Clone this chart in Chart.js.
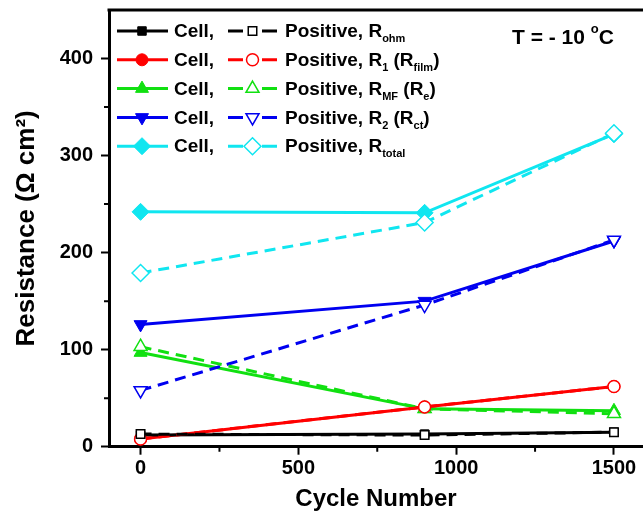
<!DOCTYPE html>
<html><head><meta charset="utf-8">
<script src="https://cdn.jsdelivr.net/npm/chart.js@4/dist/chart.umd.min.js"></script>
<style>html,body{margin:0;padding:0;background:#fff}#wrap{position:relative;width:643px;height:521px}</style>
</head><body><div id="wrap"><canvas id="c"></canvas></div>
<script>
// ---- data ----
const cycles = [0, 900, 1500];
const cellRohm = [12, 13, 15];
const posRohm = [13, 12, 15];
const cellR1 = [8, 41, 62];
const posR1 = [8, 41, 62];
const cellRMF = [97, 39, 37];
const posRMF = [103, 39, 34];
const cellR2 = [126, 150, 212];
const posR2 = [58, 146, 213];
const cellRtotal = [242, 241, 322];
const posRtotal = [179, 231, 323];
const xTicks = [0, 500, 1000, 1500];
const yTicks = [0, 100, 200, 300, 400];
const xMinorTicks = [250, 750, 1250];
const yMinorTicks = [50, 150, 250, 350];
const cellLabel = 'Cell,';
const posLabels = [
  [{t:'Positive, R'},{t:'ohm',sub:true}],
  [{t:'Positive, R'},{t:'1',sub:true},{t:' (R'},{t:'film',sub:true},{t:')'}],
  [{t:'Positive, R'},{t:'MF',sub:true},{t:' (R'},{t:'e',sub:true},{t:')'}],
  [{t:'Positive, R'},{t:'2',sub:true},{t:' (R'},{t:'ct',sub:true},{t:')'}],
  [{t:'Positive, R'},{t:'total',sub:true}]
];
const tempLabel = [{t:'T = - 10 '},{t:'o',sup:true},{t:'C'}];

// ---- styles ----
const FONT = '"Liberation Sans", Arial, sans-serif';
const styles = [
  {color:'#000000', ps:'rect', r:6, rot:0},
  {color:'#ff0000', ps:'circle', r:6, rot:0},
  {color:'#11e011', ps:'triangle', r:7.5, rot:0},
  {color:'#0000f0', ps:'triangle', r:7.5, rot:180},
  {color:'#10e6f0', ps:'rectRot', r:8.5, rot:0}
];
const cellData = [cellRohm, cellR1, cellRMF, cellR2, cellRtotal];
const posData = [posRohm, posR1, posRMF, posR2, posRtotal];

const datasets = [];
styles.forEach((s, i) => {
  datasets.push({
    label: 'Cell ' + i, order: 1,
    data: cycles.map((x, k) => ({x, y: cellData[i][k]})),
    showLine: true, borderColor: s.color, backgroundColor: s.color,
    borderWidth: 3, pointStyle: s.ps, pointRadius: s.r, pointRotation: s.rot,
    pointBackgroundColor: s.color, pointBorderColor: s.color, pointBorderWidth: 1,
    pointHoverRadius: s.r, clip: false
  });
  datasets.push({
    label: 'Positive ' + i, order: 0,
    data: cycles.map((x, k) => ({x, y: posData[i][k]})),
    showLine: true, borderColor: s.color, backgroundColor: '#ffffff',
    borderWidth: 3, borderDash: [11, 7], pointStyle: s.ps, pointRadius: s.r, pointRotation: s.rot,
    pointBackgroundColor: '#ffffff', pointBorderColor: s.color, pointBorderWidth: 1.5,
    pointHoverRadius: s.r, clip: false
  });
});

function drawRich(ctx, parts, x, y, size) {
  let cx = x;
  parts.forEach(p => {
    const fs = (p.sub || p.sup) ? Math.round(size * 0.6) : size;
    ctx.font = 'bold ' + fs + 'px ' + FONT;
    const dy = p.sub ? size * 0.38 : (p.sup ? -size * 0.42 : 0);
    ctx.fillText(p.t, cx, y + dy);
    cx += ctx.measureText(p.t).width;
  });
}

function marker(ctx, s, x, y, filled) {
  ctx.save();
  ctx.fillStyle = filled ? s.color : '#ffffff';
  ctx.strokeStyle = s.color;
  ctx.lineWidth = filled ? 1 : 1.5;
  ctx.setLineDash([]);
  Chart.helpers.drawPoint(ctx, {pointStyle: s.ps, radius: s.r, rotation: s.rot, borderWidth: ctx.lineWidth}, x, y);
  ctx.restore();
}

function noPad(sc) {
  sc.paddingTop = 0; sc.paddingBottom = 0; sc.paddingLeft = 0; sc.paddingRight = 0;
}

const decor = {
  id: 'decor',
  afterDraw(chart) {
    const {ctx, chartArea: a, scales: {x, y}} = chart;
    ctx.save();
    ctx.strokeStyle = '#000'; ctx.lineWidth = 2;
    ctx.beginPath();
    xMinorTicks.forEach(v => { const px = x.getPixelForValue(v); ctx.moveTo(px, a.bottom); ctx.lineTo(px, a.bottom + 5); });
    yMinorTicks.forEach(v => { const py = y.getPixelForValue(v); ctx.moveTo(a.left - 5, py); ctx.lineTo(a.left, py); });
    ctx.stroke();
    ctx.lineWidth = 3;
    ctx.beginPath(); ctx.moveTo(a.left - 1.5, a.top); ctx.lineTo(a.right, a.top); ctx.stroke();

    // legend
    const y0 = 31, dyRow = 28.8;
    ctx.textBaseline = 'middle'; ctx.fillStyle = '#000';
    styles.forEach((s, i) => {
      const yy = y0 + i * dyRow;
      ctx.strokeStyle = s.color; ctx.lineWidth = 3; ctx.setLineDash([]);
      ctx.beginPath(); ctx.moveTo(117, yy); ctx.lineTo(168, yy); ctx.stroke();
      marker(ctx, s, 142, yy, true);
      ctx.strokeStyle = s.color; ctx.lineWidth = 3;
      ctx.beginPath(); ctx.moveTo(228, yy); ctx.lineTo(243, yy); ctx.moveTo(262, yy); ctx.lineTo(277, yy); ctx.stroke();
      marker(ctx, s, 252.5, yy, false);
      ctx.fillStyle = '#000';
      drawRich(ctx, [{t: cellLabel}], 174, yy + 1, 19);
      drawRich(ctx, posLabels[i], 285, yy + 1, 19);
    });
    drawRich(ctx, tempLabel, 512, 38, 21);
    ctx.restore();
  }
};

new Chart(document.getElementById('c'), {
  type: 'scatter',
  data: {datasets},
  options: {
    responsive: true, maintainAspectRatio: false, animation: false,
    layout: {autoPadding: false, padding: {top: 10, right: 0, left: 0, bottom: 0}},
    plugins: {legend: {display: false}, tooltip: {enabled: false}},
    scales: {
      x: {
        type: 'linear', min: -100, max: 1592,
        afterBuildTicks: sc => { sc.ticks = xTicks.map(v => ({value: v})); },
        afterFit: sc => { sc.height = 74.3; noPad(sc); },
        grid: {drawOnChartArea: false, drawTicks: true, tickLength: 8, tickWidth: 2, tickColor: '#000'},
        border: {display: true, width: 3, color: '#000'},
        ticks: {color: '#000', padding: 2, font: {family: FONT, size: 20, weight: 'bold'}, maxRotation: 0, callback: v => String(v)},
        title: {display: true, text: 'Cycle Number', color: '#000', font: {family: FONT, size: 24, weight: 'bold'}, padding: {top: 0, bottom: 7}}
      },
      y: {
        type: 'linear', min: 0, max: 450,
        afterBuildTicks: sc => { sc.ticks = yTicks.map(v => ({value: v})); },
        afterFit: sc => { sc.width = 109; noPad(sc); },
        grid: {drawOnChartArea: false, drawTicks: true, tickLength: 8, tickWidth: 2, tickColor: '#000'},
        border: {display: true, width: 3, color: '#000'},
        ticks: {color: '#000', padding: 8, font: {family: FONT, size: 20, weight: 'bold'}, callback: v => String(v)},
        title: {display: true, text: 'Resistance (Ω cm²)', color: '#000', font: {family: FONT, size: 26, weight: 'bold'}, padding: {top: 11, bottom: 0}}
      }
    }
  },
  plugins: [decor]
});
</script></body></html>
